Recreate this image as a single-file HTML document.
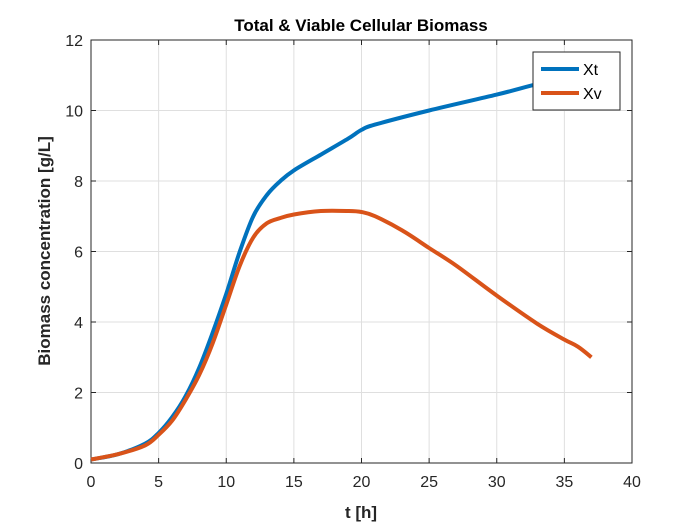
<!DOCTYPE html>
<html><head><meta charset="utf-8"><style>
body{margin:0;background:#fff;}
svg text{font-family:"Liberation Sans",Arial,sans-serif;}
</style></head><body>
<svg id="c" width="700" height="525" xmlns="http://www.w3.org/2000/svg"></svg>
<script>
const xTicks=[0,5,10,15,20,25,30,35,40];
const yTicks=[0,2,4,6,8,10,12];
const tXt=[0,2,4,5,6,7,8,9,10,11,12,13,14,15,17,19,20,21,25,30,33,35,37];
const Xt=[0.1,0.25,0.55,0.85,1.3,1.9,2.7,3.7,4.8,6.0,7.0,7.6,8.0,8.3,8.75,9.2,9.45,9.6,10.0,10.45,10.75,10.9,11.1];
const tXv=[0,2,4,5,6,7,8,9,10,11,12,13,14,15,17,19,20,21,23,25,27,30,33,35,36,37];
const Xv=[0.1,0.25,0.5,0.8,1.2,1.8,2.5,3.4,4.5,5.6,6.4,6.8,6.95,7.05,7.15,7.15,7.12,7.0,6.6,6.1,5.6,4.75,3.95,3.5,3.3,3.0];
const L=91,R=632,T=40,B=463;
const sx=v=>L+(v-0)/40*(R-L), sy=v=>B-v/12*(B-T);
const svg=document.getElementById('c');const NS='http://www.w3.org/2000/svg';
function mk(tag,attrs,parent){const e=document.createElementNS(NS,tag);for(const k in attrs)e.setAttribute(k,attrs[k]);(parent||svg).appendChild(e);return e;}
let e=mk('rect',{x:L,y:T,width:R-L,height:B-T,fill:'#fff'});


xTicks.forEach(v=>{const x=sx(v);
 if(v>0&&v<40){let g=mk('line',{x1:x,x2:x,y1:T,y2:B,stroke:'#dfdfdf','stroke-width':1});}
 mk('line',{x1:x,x2:x,y1:B,y2:B-5,stroke:'#262626'});mk('line',{x1:x,x2:x,y1:T,y2:T+5,stroke:'#262626'});
 let t=mk('text',{x:x,y:B+24,'text-anchor':'middle','font-size':16,fill:'#262626'});t.textContent=v;
 });
yTicks.forEach(v=>{const y=sy(v);
 if(v>0&&v<12){let g=mk('line',{x1:L,x2:R,y1:y,y2:y,stroke:'#dfdfdf','stroke-width':1});}
 mk('line',{x1:L,x2:L+5,y1:y,y2:y,stroke:'#262626'});mk('line',{x1:R,x2:R-5,y1:y,y2:y,stroke:'#262626'});
 let t=mk('text',{x:L-8,y:y+6,'text-anchor':'end','font-size':16,fill:'#262626'});t.textContent=v;
 });
e=mk('rect',{x:L,y:T,width:R-L,height:B-T,fill:'none',stroke:'#262626','stroke-width':1});

function line(xs,ys,col,name){
 const P=xs.map((x,i)=>[sx(x),sy(ys[i])]);
 let d='M'+P[0][0].toFixed(1)+','+P[0][1].toFixed(1);
 for(let i=0;i<P.length-1;i++){const p0=P[Math.max(i-1,0)],p1=P[i],p2=P[i+1],p3=P[Math.min(i+2,P.length-1)];
  const c1=[p1[0]+(p2[0]-p0[0])/6,p1[1]+(p2[1]-p0[1])/6],c2=[p2[0]-(p3[0]-p1[0])/6,p2[1]-(p3[1]-p1[1])/6];
  d+=' C'+c1.map(v=>v.toFixed(1)).join(',')+' '+c2.map(v=>v.toFixed(1)).join(',')+' '+p2.map(v=>v.toFixed(1)).join(',');}
 const p=mk('path',{d:d,fill:'none',stroke:col,'stroke-width':4,'stroke-linejoin':'round'});
 }
line(tXt,Xt,'#0072bd','series-xt');
line(tXv,Xv,'#d95319','series-xv');
const lg=mk('g',{});
mk('rect',{x:533,y:52,width:87,height:58,fill:'#fff',stroke:'#262626'},lg);
[['Xt','#0072bd',69],['Xv','#d95319',93]].forEach(([n,c,y])=>{
 mk('line',{x1:541,x2:579,y1:y,y2:y,stroke:c,'stroke-width':4},lg);
 const t=mk('text',{x:583,y:y+6,'font-size':16,fill:'#000'},lg);t.textContent=n;
 });
let t=mk('text',{x:361,y:31,'text-anchor':'middle','font-size':17,'font-weight':'bold',fill:'#000'});t.textContent='Total & Viable Cellular Biomass';

t=mk('text',{x:361,y:518,'text-anchor':'middle','font-size':17,'font-weight':'bold',fill:'#262626'});t.textContent='t [h]';

t=mk('text',{x:0,y:0,'text-anchor':'middle','font-size':17,'font-weight':'bold',fill:'#262626',transform:'translate(50,251) rotate(-90)'});t.textContent='Biomass concentration [g/L]';

</script>
</body></html>
